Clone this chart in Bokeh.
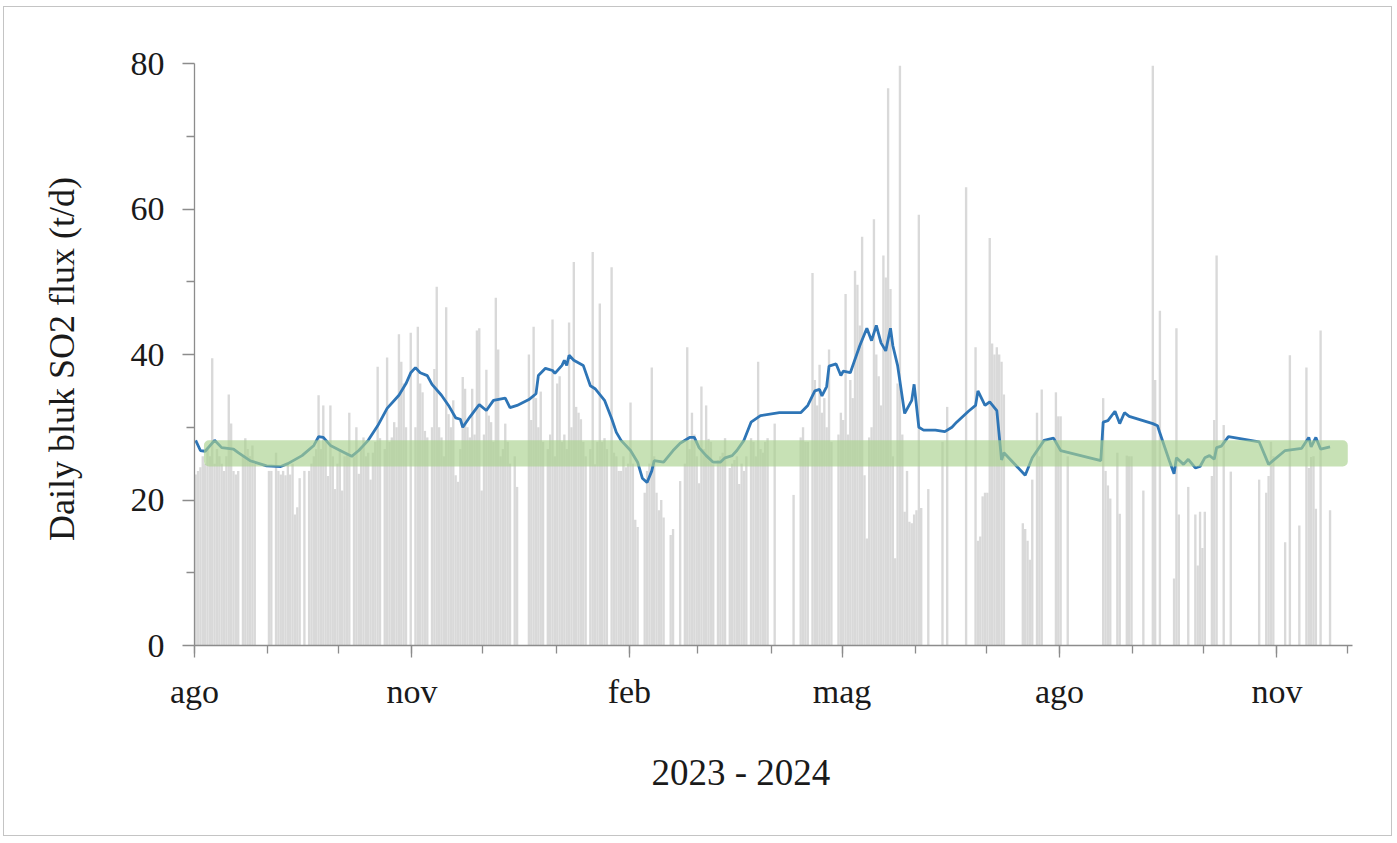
import pandas as pd
from bokeh.plotting import figure
from bokeh.models import (ColumnDataSource, FixedTicker, CustomJSTickFormatter,
                          BoxAnnotation, Title, Range1d)
from bokeh.embed import file_html
from bokeh.resources import INLINE

# Daily SO2 flux (t/d); 0 = no measurement that day
aug_2023 = [23.5, 24, 24.5, 26, 25, 27, 26, 39.5, 25, 27, 26, 25, 24, 26, 34.5, 30.5, 24, 23.5, 24, 0,
            26, 28.5, 27, 26, 27.5, 25, 0, 0, 0, 0, 0]
sep_2023 = [24, 24, 0, 26.5, 24, 23.5, 24, 23.4, 25, 23.5, 25, 18, 19, 23, 0, 24, 0, 24, 25, 26,
            27, 34.4, 27, 33, 28, 23.3, 33, 26, 21.5, 25]
oct_2023 = [27, 21.3, 26, 26.5, 32, 0, 26, 30, 23.6, 27, 28.6, 26, 26.5, 22.8, 26.5, 28, 38.3, 28.5, 0, 27,
            39.6, 28, 28.6, 30.7, 30, 42.8, 39, 36, 30, 0, 43]
nov_2023 = [0, 30, 43.8, 36, 34.8, 29.5, 28.6, 0, 30, 38, 49.3, 30, 28.6, 26, 46.5, 31.8, 30, 33.7, 23.4, 22.5,
            27, 36.9, 35.3, 30, 28.6, 35.3, 29, 43.3, 43.6, 21.3]
dec_2023 = [29, 37.9, 31.6, 30.7, 28, 47.8, 40.7, 26, 27, 30.5, 28, 25, 0, 26, 21.8, 0, 0, 0, 0, 40,
            31, 43.8, 34, 30, 34.9, 28, 0, 27, 29, 44.8, 26]
jan_2024 = [36, 37, 28, 29, 27, 44.4, 30, 52.7, 32.8, 32, 31.1, 28, 26, 0, 27, 54.1, 24.9, 28, 47, 28,
            28.5, 27, 0, 52, 26.5, 26, 24, 24, 26, 24.5, 25]
feb_2024 = [33.4, 25, 17.3, 16.3, 0, 0, 21, 24, 25, 38.2, 26, 21, 18.6, 20, 17.6, 0, 0, 15.2, 16, 0,
            0, 22.6, 0, 25, 41, 27, 32, 29, 26]
mar_2024 = [22.3, 35.6, 27, 33, 28.4, 28, 24.9, 0, 25.5, 26, 26.5, 28.5, 0, 24.4, 25, 25.5, 26, 22.2, 25, 24,
            26, 0, 28.5, 28, 26, 39, 27, 26.5, 28, 28.5, 0]
apr_2024 = [0, 30.5, 0, 0, 0, 0, 0, 0, 0, 20.7, 0, 0, 28.6, 30, 28, 28, 0, 51.2, 36.5, 33,
            38.6, 32, 34, 30, 40.7, 28, 0, 0, 29, 32]
may_2024 = [31, 48.3, 29, 36.5, 34, 51.5, 49.6, 44, 56.2, 23.4, 14.7, 28.6, 30, 58.6, 40, 37, 33, 53.6, 50.6, 76.6,
            49, 26, 12, 36, 79.7, 29, 18.4, 24, 17, 16.8, 18]
jun_2024 = [18.6, 59.2, 18.9, 0, 0, 21.5, 0, 0, 0, 0, 0, 28, 0, 32.8, 0, 0, 0, 0, 0, 0,
            0, 63, 0, 0, 0, 41, 14.4, 15, 20.5, 21]
jul_2024 = [21, 56, 41.5, 40, 41, 40, 39, 34.5, 0, 0, 0, 0, 0, 0, 0, 16.8, 16, 14.4, 11.8, 22.8,
            0, 32, 26, 35.2, 0, 0, 0, 0, 0, 34.8, 31.5]
aug_2024 = [31.5, 0, 0, 26, 0, 0, 0, 0, 0, 0, 0, 0, 0, 0, 0, 0, 0, 0, 34, 24,
            22, 20.2, 0, 0, 26.5, 18.1, 0, 0, 26.1, 26, 26]
sep_2024 = [0, 0, 0, 0, 21.3, 0, 0, 0, 79.7, 36.5, 0, 46, 0, 0, 0, 0, 0, 9.2, 43.6, 18,
            0, 0, 0, 21.8, 0, 0, 18, 11, 18.4, 13.4]
oct_2024 = [18.4, 0, 0, 23.3, 31, 53.6, 0, 0, 30.3, 0, 0, 23.9, 0, 0, 0, 0, 0, 0, 0, 0,
            0, 0, 0, 22.8, 0, 0, 21, 23.3, 28, 26, 0]
nov_2024 = [0, 0, 0, 14.2, 0, 39.9, 0, 0, 0, 16.5, 0, 0, 38.2, 24.4, 25.9, 26, 18.8, 0, 43.3, 0,
            0, 0, 18.6]

month_starts = ["2023-08-01", "2023-09-01", "2023-10-01", "2023-11-01", "2023-12-01", "2024-01-01",
                "2024-02-01", "2024-03-01", "2024-04-01", "2024-05-01", "2024-06-01", "2024-07-01",
                "2024-08-01", "2024-09-01", "2024-10-01", "2024-11-01"]
monthly_flux = [aug_2023, sep_2023, oct_2023, nov_2023, dec_2023, jan_2024, feb_2024, mar_2024,
                apr_2024, may_2024, jun_2024, jul_2024, aug_2024, sep_2024, oct_2024, nov_2024]

# Running mean of the flux
trend_dates = [
    "2023-08-01", "2023-08-03", "2023-08-05", "2023-08-09", "2023-08-12", "2023-08-17", "2023-08-19",
    "2023-08-24", "2023-08-31",
    "2023-09-06", "2023-09-09", "2023-09-15", "2023-09-20", "2023-09-22", "2023-09-24", "2023-09-27",
    "2023-10-03", "2023-10-06", "2023-10-09", "2023-10-13", "2023-10-17", "2023-10-21", "2023-10-26",
    "2023-10-29", "2023-10-31",
    "2023-11-02", "2023-11-04", "2023-11-07", "2023-11-09", "2023-11-13", "2023-11-16", "2023-11-19",
    "2023-11-21", "2023-11-22", "2023-11-25", "2023-11-28", "2023-11-29",
    "2023-12-02", "2023-12-05", "2023-12-10", "2023-12-12", "2023-12-15", "2023-12-20", "2023-12-23",
    "2023-12-24", "2023-12-27", "2023-12-30", "2023-12-31",
    "2024-01-03", "2024-01-04", "2024-01-05", "2024-01-06", "2024-01-08", "2024-01-12", "2024-01-15",
    "2024-01-17", "2024-01-21", "2024-01-24", "2024-01-26", "2024-01-28",
    "2024-02-01", "2024-02-04", "2024-02-06", "2024-02-08", "2024-02-10", "2024-02-11", "2024-02-15",
    "2024-02-19", "2024-02-22", "2024-02-26", "2024-02-28",
    "2024-03-01", "2024-03-04", "2024-03-07", "2024-03-10", "2024-03-12", "2024-03-15", "2024-03-17",
    "2024-03-20", "2024-03-23", "2024-03-27",
    "2024-04-04", "2024-04-13", "2024-04-16", "2024-04-19", "2024-04-21", "2024-04-22", "2024-04-24",
    "2024-04-25", "2024-04-28", "2024-04-30",
    "2024-05-01", "2024-05-04", "2024-05-08", "2024-05-11", "2024-05-13", "2024-05-15", "2024-05-17",
    "2024-05-19", "2024-05-21", "2024-05-22", "2024-05-24", "2024-05-27", "2024-05-30", "2024-05-31",
    "2024-06-02", "2024-06-04", "2024-06-09", "2024-06-13", "2024-06-16", "2024-06-18", "2024-06-23",
    "2024-06-26", "2024-06-27", "2024-06-30",
    "2024-07-02", "2024-07-05", "2024-07-07", "2024-07-08", "2024-07-17", "2024-07-20", "2024-07-25",
    "2024-07-29",
    "2024-08-01", "2024-08-18", "2024-08-19", "2024-08-21", "2024-08-24", "2024-08-26", "2024-08-28",
    "2024-08-30",
    "2024-09-09", "2024-09-11", "2024-09-12", "2024-09-16", "2024-09-18", "2024-09-19", "2024-09-22",
    "2024-09-24", "2024-09-27", "2024-09-29",
    "2024-10-01", "2024-10-03", "2024-10-05", "2024-10-06", "2024-10-08", "2024-10-11", "2024-10-24",
    "2024-10-28",
    "2024-11-04", "2024-11-11", "2024-11-14", "2024-11-15", "2024-11-17", "2024-11-19", "2024-11-23",
]
trend_values = [
    28.2, 26.8, 26.7, 28.2, 27.2, 27.0, 26.5, 25.4, 24.7,
    24.6, 25.0, 26.1, 27.5, 28.7, 28.6, 27.5,
    26.5, 26.0, 26.8, 28.2, 30.2, 32.6, 34.4, 36.0, 37.5,
    38.2, 37.5, 37.1, 35.9, 34.4, 33.0, 31.3, 31.1, 30.0, 31.4, 32.7, 33.1,
    32.3, 33.7, 34.0, 32.7, 33.0, 33.8, 34.6, 37.1, 38.1, 37.8, 37.4,
    38.5, 39.2, 38.5, 39.9, 39.2, 38.5, 35.7, 35.3, 33.7, 31.2, 29.3, 28.2,
    26.8, 25.2, 23.0, 22.4, 24.0, 25.4, 25.2, 26.8, 27.8, 28.6, 28.6,
    27.2, 26.1, 25.2, 25.2, 25.8, 26.1, 26.8, 28.2, 30.7, 31.6,
    32.0, 32.0, 33.0, 35.0, 35.2, 34.3, 35.6, 38.4, 38.7, 37.1,
    37.7, 37.5, 41.2, 43.6, 41.9, 44.0, 41.6, 40.5, 43.6, 41.2, 38.5, 31.9, 33.7, 35.9,
    30.0, 29.6, 29.6, 29.4, 30.0, 30.7, 32.2, 33.0, 35.0, 33.0,
    33.5, 32.3, 25.5, 26.5, 23.4, 25.8, 28.2, 28.5,
    26.8, 25.4, 30.7, 30.9, 32.2, 30.5, 32.0, 31.5,
    30.5, 30.2, 29.2, 25.4, 23.6, 25.8, 24.9, 25.6, 24.4, 24.6,
    25.8, 26.1, 25.6, 27.2, 27.4, 28.7, 28.0, 24.9,
    26.8, 27.1, 28.6, 27.3, 28.6, 27.0, 27.3,
]

# Reference level band
band_start, band_end = "2023-08-05", "2024-12-01"
band_low, band_high = 24.6, 28.2

month_names = ["gen", "feb", "mar", "apr", "mag", "giu", "lug", "ago", "set", "ott", "nov", "dic"]
labelled_months = ["2023-08-01", "2023-11-01", "2024-02-01", "2024-05-01", "2024-08-01", "2024-11-01"]
axis_start, axis_end = "2023-08-01", "2024-12-03"

FONT = "Liberation Serif"
AXIS_GREY = "#8c8c8c"
HALF_DAY = pd.Timedelta(hours=12)


def ms(ts):
    return pd.Timestamp(ts).value / 1e6


# Expand monthly lists into one daily series, keeping only measured days
days, flux = [], []
for start, values in zip(month_starts, monthly_flux):
    for d, v in zip(pd.date_range(start, periods=len(values), freq="D"), values):
        if v > 0:
            days.append(d + HALF_DAY)
            flux.append(v)
bars = ColumnDataSource(dict(day=days, flux=flux))
trend = ColumnDataSource(dict(day=pd.to_datetime(trend_dates) + HALF_DAY, value=trend_values))

p = figure(width=1389, height=830, x_axis_type="datetime",
           x_range=Range1d(pd.Timestamp(axis_start), pd.Timestamp(axis_end)),
           y_range=Range1d(0, 80),
           output_backend="svg", toolbar_location=None,
           min_border_left=190, min_border_right=41, min_border_top=56, min_border_bottom=192)
p.styles = {"border": "1px solid #c4c4c4", "margin-left": "3px", "margin-top": "6px"}
p.grid.visible = False
p.outline_line_color = None
p.background_fill_color = "white"
p.border_fill_color = "white"

p.vbar(x="day", top="flux", width=86_400_000, source=bars,
       fill_color="#d9d9d9", line_color=None)
p.line(x="day", y="value", source=trend, line_color="#2e75b6", line_width=2.8)

band = BoxAnnotation(left=ms(band_start), right=ms(band_end), bottom=band_low, top=band_high,
                     fill_color="#a9d18e", fill_alpha=0.65, line_color=None, border_radius=5)
p.add_layout(band)

# x axis: month ticks, a label every third month
month_ticks = [ms(t) for t in pd.date_range(axis_start, axis_end, freq="MS")]
p.xaxis.ticker = FixedTicker(ticks=[ms(t) for t in labelled_months], minor_ticks=month_ticks)
p.xaxis.formatter = CustomJSTickFormatter(args=dict(names=month_names),
                                          code="return names[new Date(tick).getUTCMonth()];")
p.yaxis.ticker = FixedTicker(ticks=[0, 20, 40, 60, 80], minor_ticks=[10, 30, 50, 70])

for ax in (p.xaxis[0], p.yaxis[0]):
    ax.axis_line_color = AXIS_GREY
    ax.axis_line_width = 1.3
    ax.major_tick_line_color = AXIS_GREY
    ax.minor_tick_line_color = AXIS_GREY
    ax.major_tick_line_width = 1.3
    ax.minor_tick_line_width = 1.3
    ax.major_tick_in = 0
    ax.minor_tick_in = 0
    ax.major_tick_out = 12
    ax.minor_tick_out = 8
    ax.major_label_text_font = FONT
    ax.major_label_text_font_size = "34px"
    ax.major_label_text_color = "#1a1a1a"

p.xaxis.major_label_standoff = 15
p.yaxis.major_label_standoff = 18

p.yaxis.axis_label = "Daily bluk  SO2 flux (t/d)"
p.yaxis.axis_label_text_font = FONT
p.yaxis.axis_label_text_font_size = "36px"
p.yaxis.axis_label_text_font_style = "normal"
p.yaxis.axis_label_text_color = "#1a1a1a"
p.yaxis.axis_label_standoff = 46

p.add_layout(Title(text="2023 - 2024", align="left", offset=457, standoff=75,
                   text_font=FONT, text_font_size="37px", text_font_style="normal",
                   text_color="#1a1a1a"), "below")

open("out.html", "w").write(file_html(p, INLINE))
